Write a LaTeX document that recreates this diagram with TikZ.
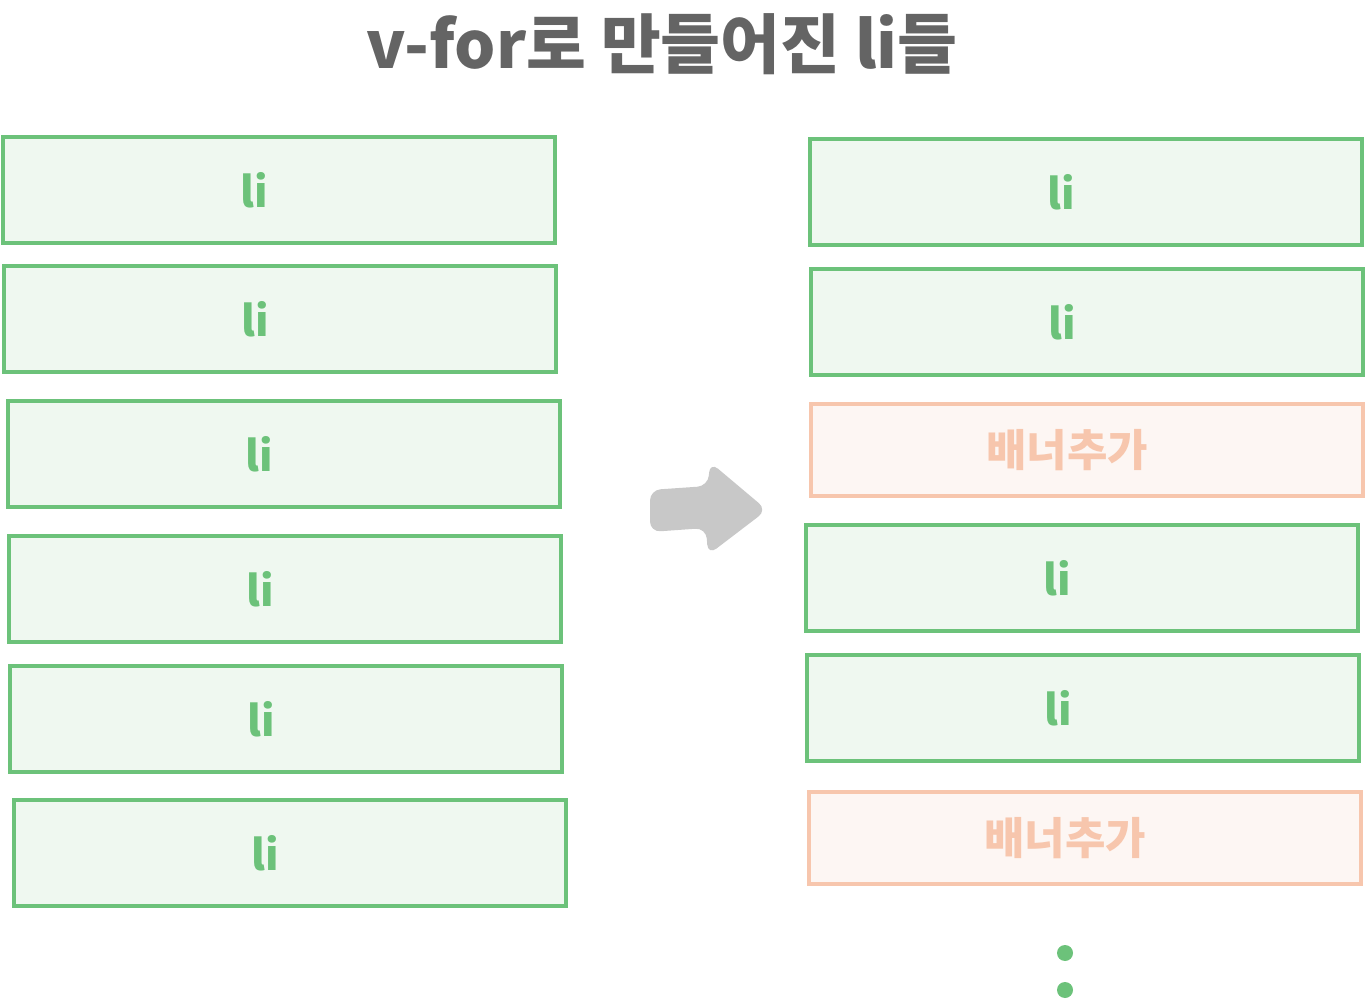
\documentclass[tikz,border=0pt]{standalone}
\usepackage{fontspec}
\usepackage{xcolor}
\usetikzlibrary{positioning}
\newfontfamily\kr{Noto Sans CJK KR}
\definecolor{ligreen}{HTML}{6CC27A}
\definecolor{lifill}{HTML}{EFF8F0}
\definecolor{bannerline}{HTML}{F7C6AD}
\definecolor{bannerfill}{HTML}{FDF6F3}
\definecolor{titlegray}{HTML}{646464}
\definecolor{arrowgray}{HTML}{C8C8C8}

\begin{document}
\begin{tikzpicture}[
    x=0.02cm, y=-0.02cm,
    every node/.style={inner sep=0pt, text centered, font=\kr},
    libox/.style={draw=ligreen, fill=lifill, line width=0.08cm, minimum width=11.04cm, minimum height=2.12cm, text=ligreen, font=\kr\bfseries\fontsize{24}{28}\selectfont, execute at begin node={\hspace*{-1cm}}},
    banner/.style={draw=bannerline, fill=bannerfill, line width=0.08cm, minimum width=11.06cm, minimum height=1.84cm, text=bannerline, font=\kr\bfseries\fontsize{25}{30}\selectfont, execute at begin node={\hspace*{-0.8cm}}}
]
\useasboundingbox (0,0) rectangle (1366,999);

% Title
\node[text=titlegray, font=\kr\bfseries\fontsize{37}{44}\selectfont] (title) at (662,44) {v-for로 만들어진 li들};

% Left column
\node[libox] (l1) at (279,190) {li};
\node[libox] (l2) at (280,319) {li};
\node[libox] (l3) at (284,454) {li};
\node[libox] (l4) at (285,589) {li};
\node[libox] (l5) at (286,719) {li};
\node[libox] (l6) at (290,853) {li};

% Right column
\node[libox] (r1) at (1086,192) {li};
\node[libox] (r2) at (1087,322) {li};
\node[banner] (r3) at (1087,450) {배너추가};
\node[libox] (r4) at (1082,578) {li};
\node[libox] (r5) at (1083,708) {li};
\node[banner] (r6) at (1085,838) {배너추가};

% Arrow
\fill[arrowgray, rounded corners=6] (650,490) -- (708,486) -- (710,462) -- (767,510)
    -- (708,555) -- (706,528) -- (650,532) -- cycle;

% More items
\fill[ligreen] (1065,953) circle (8);
\fill[ligreen] (1065,990) circle (8);

\end{tikzpicture}
\end{document}
